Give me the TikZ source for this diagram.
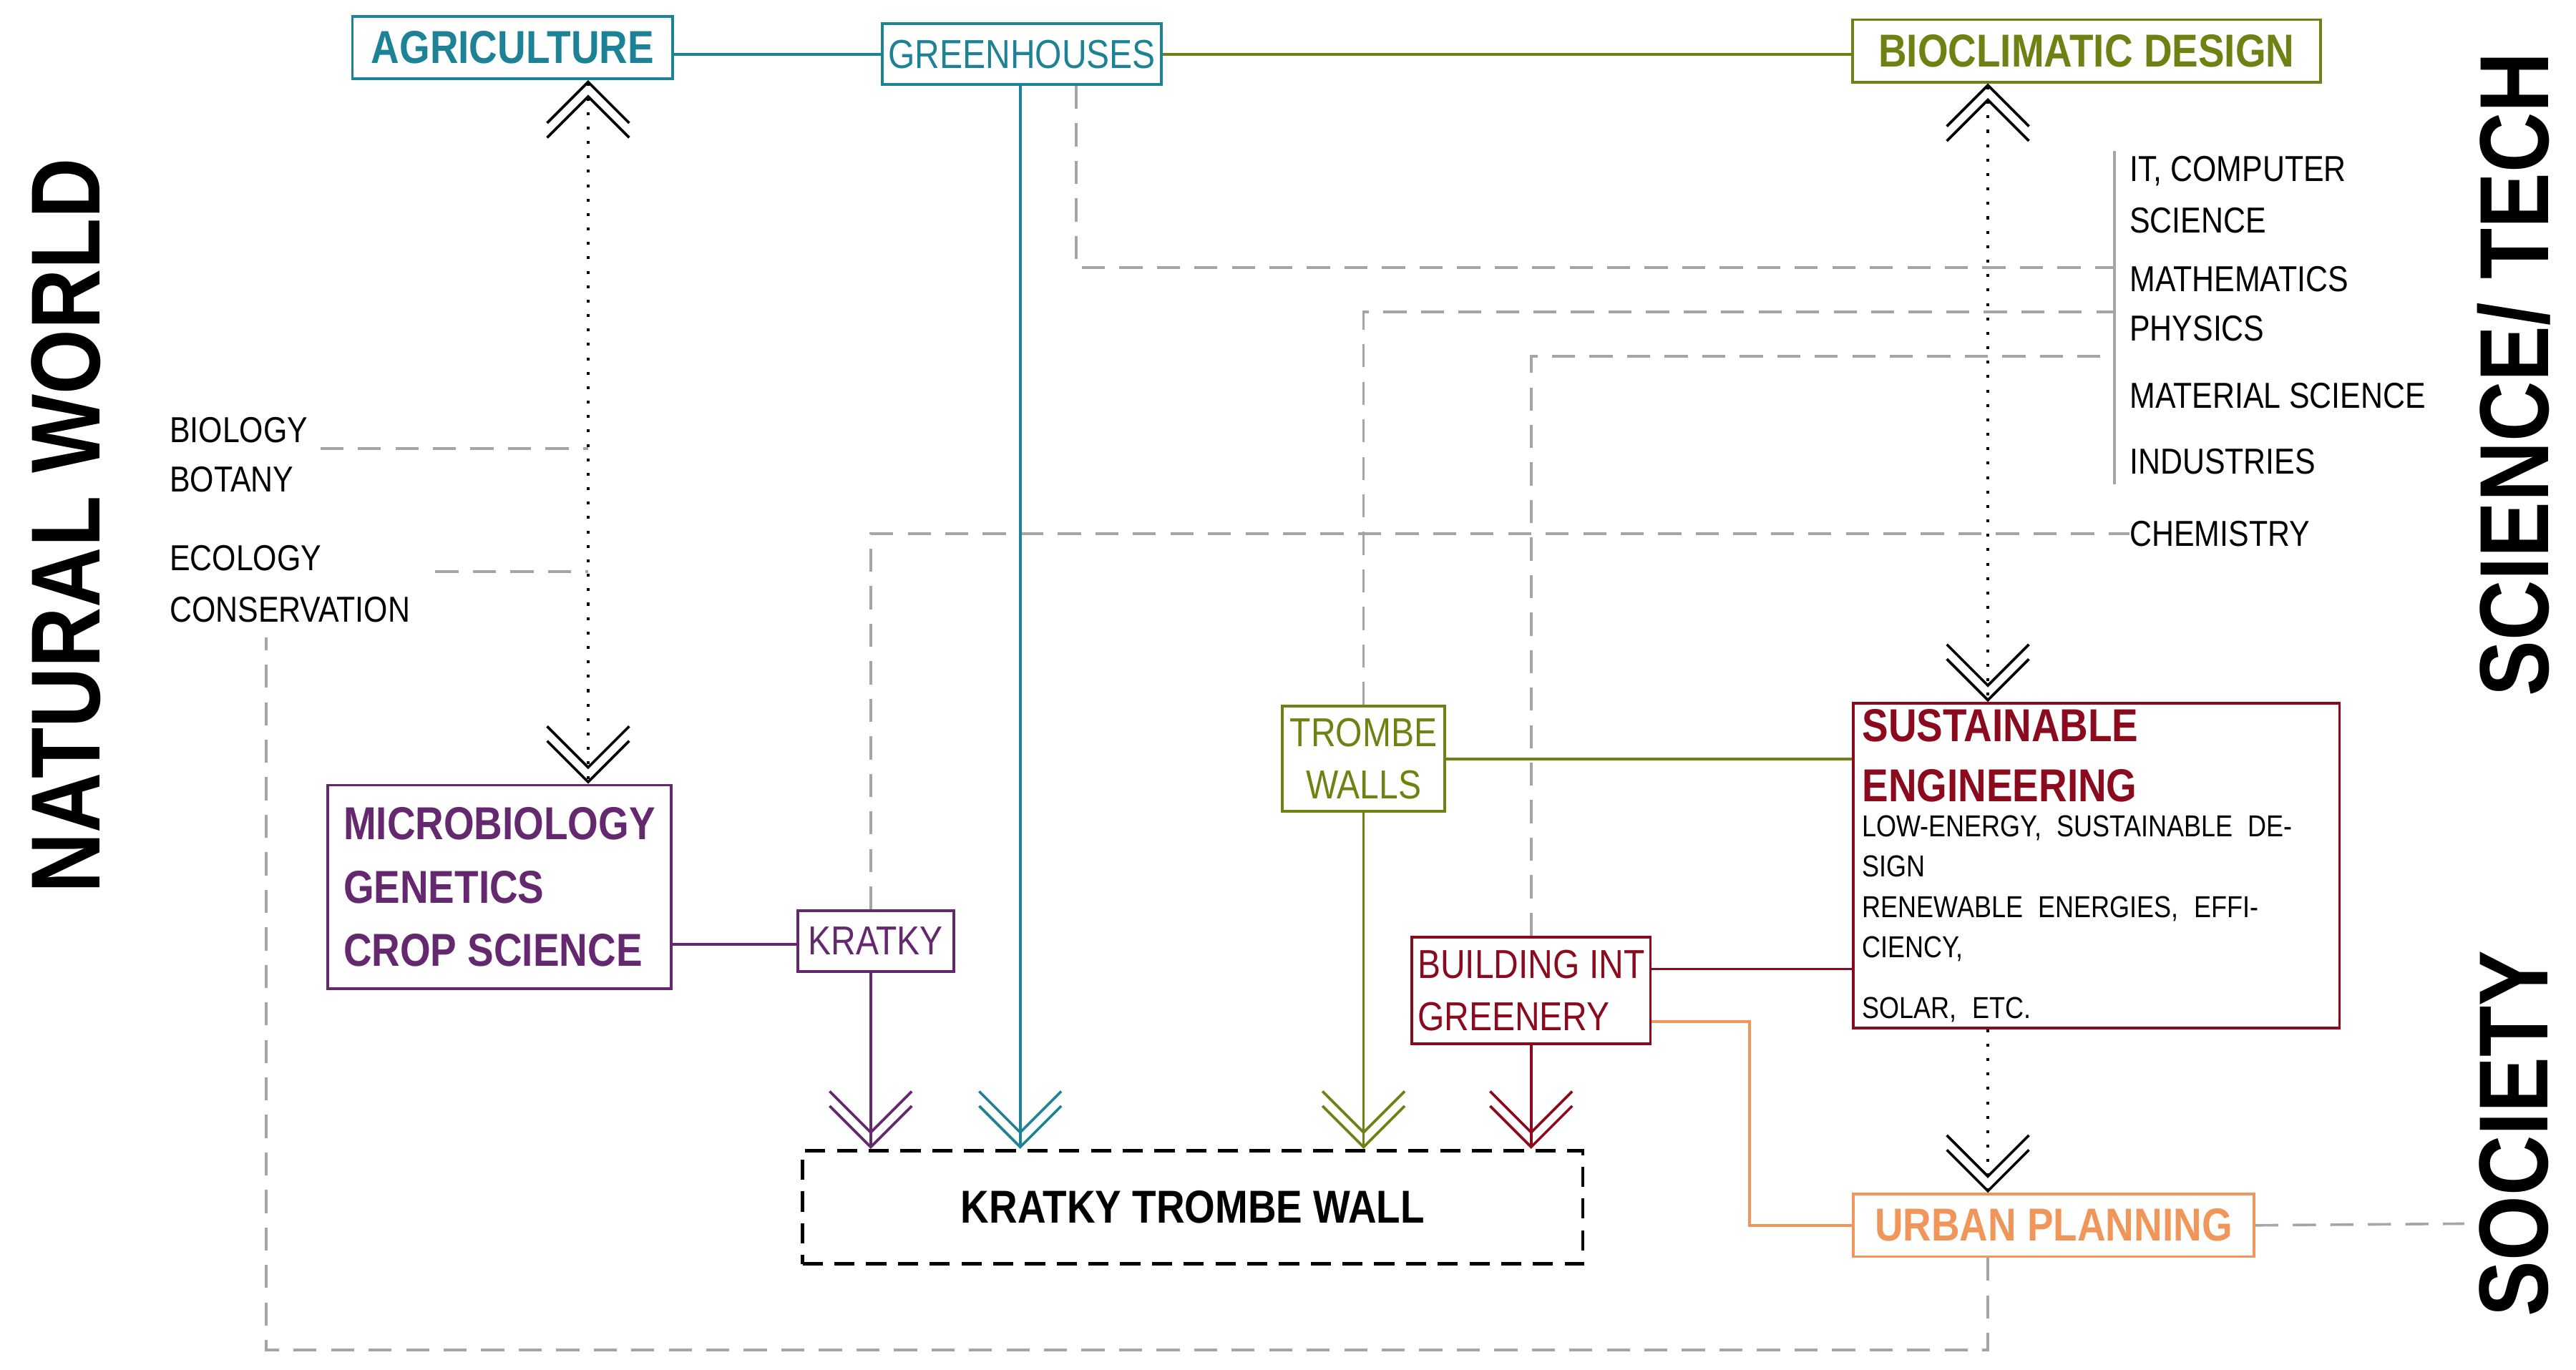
\documentclass[tikz,border=0pt]{standalone}
\usepackage{fontspec}
\setmainfont{Liberation Sans}[FakeStretch=0.85]
\usetikzlibrary{arrows.meta,positioning}
\definecolor{teal1}{RGB}{30,130,150}
\definecolor{olive1}{RGB}{110,130,20}
\definecolor{purple1}{RGB}{100,40,110}
\definecolor{red1}{RGB}{140,10,30}
\definecolor{orange1}{RGB}{240,150,90}
\definecolor{gray1}{RGB}{165,165,165}
\tikzset{
  box/.style={draw=#1, text=#1, line width=0.9pt, inner sep=2pt, align=center},
  big/.style={font=\fontsize{16}{19}\selectfont\bfseries},
  mid/.style={font=\fontsize{14}{17}\selectfont},
  small/.style={font=\fontsize{12.5}{17}\selectfont, anchor=west, inner sep=0pt},
  side/.style={font=\fontsize{34}{40}\selectfont\bfseries, rotate=90},
  chevs/.tip={Straight Barb[length=0.5cm,width=1cm,sep=-0.36cm,line width=0.9pt]Straight Barb[length=0.5cm,width=1cm,line width=0.9pt]},
  dbl/.style={-{chevs}},
  link/.style={line width=0.9pt},
  grey/.style={gray1, line width=0.9pt, dash pattern=on 8pt off 5pt},
  dots/.style={line width=1pt, dash pattern=on 1pt off 4pt}
}
\begin{document}
\begin{tikzpicture}[x=0.02cm,y=-0.02cm]
\useasboundingbox (0,0) rectangle (1568,834);
% boxes
\node[box=teal1, big, minimum width=3.9cm, minimum height=0.76cm] (agri) at (312,29) {AGRICULTURE};
\node[box=teal1, mid, minimum width=3.36cm, minimum height=0.74cm] (green) at (622,33) {GREENHOUSES};
\node[box=olive1, big, minimum width=5.7cm, minimum height=0.76cm] (bio) at (1270,31) {BIOCLIMATIC DESIGN};
\node[box=purple1, big, minimum width=4.18cm, minimum height=2.48cm, align=left, font=\fontsize{16}{22}\selectfont\bfseries] (micro) at (304,540) {MICROBIOLOGY\\GENETICS\\CROP SCIENCE};
\node[box=purple1, mid, minimum width=1.9cm, minimum height=0.74cm] (kratky) at (533,573) {KRATKY};
\node[draw, line width=1.2pt, dash pattern=on 7pt off 4pt, big, minimum width=9.5cm, minimum height=1.38cm] (wall) at (726,735) {KRATKY TROMBE WALL};
\node[box=olive1, mid, minimum width=1.98cm, minimum height=1.28cm, font=\fontsize{14}{18}\selectfont] (trombe) at (830,462) {TROMBE\\WALLS};
\node[box=red1, minimum width=5.92cm, minimum height=3.2cm, align=left, text width=5.7cm, font=\fontsize{16}{21}\selectfont\bfseries] (sust) at (1276,527)
  {SUSTAINABLE\\ENGINEERING\\[-2pt]
   \textcolor{black}{\fontsize{10.5}{14}\selectfont\mdseries LOW-ENERGY, SUSTAINABLE DESIGN\\RENEWABLE ENERGIES, EFFICIENCY,\\SOLAR, ETC.}};
\node[box=red1, mid, minimum width=2.86cm, minimum height=1.3cm, align=left, font=\fontsize{14}{18}\selectfont] (build) at (932,603) {BUILDING INT\\GREENERY};
\node[box=orange1, big, minimum width=4.88cm, minimum height=0.76cm] (urban) at (1250,746) {URBAN PLANNING};
% side labels
\node[side] (natural) at (40,320) {NATURAL WORLD};
\node[side] (scitech) at (1530,228) {SCIENCE/ TECH};
\node[side] (society) at (1530,690) {SOCIETY};
% discipline labels
\node[small] (biology) at (103,262) {BIOLOGY};
\node[small] (botany) at (103,292) {BOTANY};
\node[small] (ecology) at (103,340) {ECOLOGY};
\node[small] (conserv) at (103,371) {CONSERVATION};
\node[small] (it) at (1296,104) {IT, COMPUTER};
\node[small] (cs) at (1296,134) {SCIENCE};
\node[small] (math) at (1296,170) {MATHEMATICS};
\node[small] (phys) at (1296,200) {PHYSICS};
\node[small] (matsci) at (1296,241) {MATERIAL SCIENCE};
\node[small] (ind) at (1296,281) {INDUSTRIES};
\node[small] (chem) at (1296,325) {CHEMISTRY};
\coordinate (bar1) at (1287,92);
\coordinate (bar2) at (1287,295);
\draw[gray1, line width=0.9pt] (bar1) -- (bar2);
% grey dashed links
\draw[grey] (green.south -| 655,0) |- (1287,163);
\draw[grey] (trombe.north) |- (1287,190);
\draw[grey] (build.north) |- (1287,217);
\draw[grey] (kratky.north -| 530,0) |- (chem.west);
\draw[grey] (195,273) -- (358,273);
\draw[grey] (265,348) -- (358,348);
\draw[grey] (urban.east) -- (1500,745);
\draw[grey] (urban.south -| 1210,0) |- (162,822) -- (162,388);
% solid links
\draw[link, teal1] (agri.east |- 0,33) -- (green.west);
\draw[link, olive1] (green.east) -- (bio.west |- green.east);
\draw[link, purple1] (micro.east |- 0,575) -- (kratky.west |- 0,575);
\draw[link, olive1] (trombe.east) -- (sust.west |- trombe.east);
\draw[link, red1] (build.east |- 0,590) -- (sust.west |- 0,590);
\draw[link, orange1] (build.east |- 0,622) -| (1065,746) -- (urban.west);
% arrows into the wall
\draw[link, purple1, dbl] (kratky.south -| 530,0) -- (wall.north -| 530,0);
\draw[link, teal1, dbl] (green.south -| 621,0) -- (wall.north -| 621,0);
\draw[link, olive1, dbl] (trombe.south) -- (wall.north -| trombe.south);
\draw[link, red1, dbl] (build.south) -- (wall.north -| build.south);
% dotted relations
\draw[dots, {chevs}-{chevs}] (agri.south -| 358,0) -- (micro.north -| 358,0);
\draw[dots, {chevs}-{chevs}] (bio.south -| 1210,0) -- (sust.north -| 1210,0);
\draw[dots, -{chevs}] (sust.south -| 1210,0) -- (urban.north -| 1210,0);
\end{tikzpicture}
\end{document}
